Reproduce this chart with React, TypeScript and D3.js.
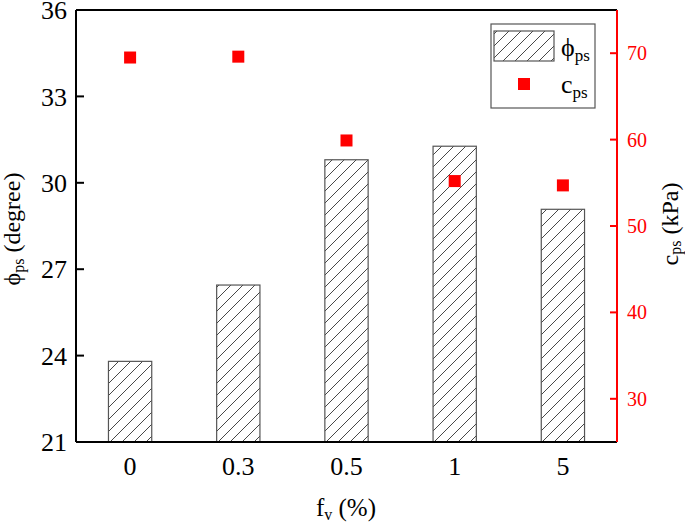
import React from "react";
import * as d3 from "d3";

const categories = ["0", "0.3", "0.5", "1", "5"];
const phiValues = [23.8, 26.45, 30.8, 31.27, 29.08];
const cValues = [69.5, 69.6, 59.9, 55.2, 54.7];
const leftTicks = [21, 24, 27, 30, 33, 36];
const rightTicks = [30, 40, 50, 60, 70];

const W = 685;
const H = 525;
const M = { left: 76, right: 617, top: 10, bottom: 442 };
const FONT = '"Liberation Serif", "Times New Roman", serif';

export default function App() {
  const x = d3.scaleBand<string>().domain(categories).range([M.left, M.right]).padding(0);
  const yL = d3.scaleLinear().domain([21, 36]).range([M.bottom, M.top]);
  const yR = d3.scaleLinear().domain([25, 75]).range([M.bottom, M.top]);
  const bw = x.bandwidth() * 0.4;
  const sq = 12;
  const cx = (c: string) => (x(c) as number) + x.bandwidth() / 2;

  return (
    <svg
      width={W}
      height={H}
      style={{ position: "absolute", left: 0, top: 0, background: "#fff", fontFamily: FONT }}
    >
      <defs>
        <pattern id="hatch" patternUnits="userSpaceOnUse" width={12} height={12}>
          <path d="M-3,3 l6,-6 M0,12 l12,-12 M9,15 l6,-6" stroke="#333" strokeWidth={0.9} />
        </pattern>
      </defs>
      <rect x={0} y={0} width={W} height={H} fill="#fff" />

      {/* bars */}
      {categories.map((c, i) => (
        <rect
          key={"b" + c}
          x={cx(c) - bw / 2}
          y={yL(phiValues[i])}
          width={bw}
          height={yL(21) - yL(phiValues[i])}
          fill="url(#hatch)"
          stroke="#555"
          strokeWidth={1.2}
        />
      ))}

      {/* squares */}
      {categories.map((c, i) => (
        <rect
          key={"s" + c}
          x={cx(c) - sq / 2}
          y={yR(cValues[i]) - sq / 2}
          width={sq}
          height={sq}
          fill="#ff0000"
        />
      ))}

      {/* frame */}
      <line x1={M.left} x2={M.right} y1={M.top} y2={M.top} stroke="#000" strokeWidth={2} />
      <line x1={M.left} x2={M.right} y1={M.bottom} y2={M.bottom} stroke="#000" strokeWidth={2} />
      <line x1={M.left} x2={M.left} y1={M.top} y2={M.bottom} stroke="#000" strokeWidth={2} />
      <line x1={M.right} x2={M.right} y1={M.top} y2={M.bottom} stroke="#ff0000" strokeWidth={2} />

      {/* left ticks */}
      {leftTicks.map((t) => (
        <g key={"lt" + t}>
          <line x1={M.left} x2={M.left + 8} y1={yL(t)} y2={yL(t)} stroke="#000" strokeWidth={2} />
          <text x={67} y={yL(t)} dy="0.35em" textAnchor="end" fontSize={26} fill="#000">
            {t}
          </text>
        </g>
      ))}

      {/* right ticks */}
      {rightTicks.map((t) => (
        <g key={"rt" + t}>
          <line x1={M.right - 7} x2={M.right} y1={yR(t)} y2={yR(t)} stroke="#ff0000" strokeWidth={2} />
          <text x={627} y={yR(t)} dy="0.35em" textAnchor="start" fontSize={20} fill="#ff0000">
            {t}
          </text>
        </g>
      ))}

      {/* x labels */}
      {categories.map((c) => (
        <text key={"xl" + c} x={cx(c)} y={475} textAnchor="middle" fontSize={26} fill="#000">
          {c}
        </text>
      ))}

      {/* axis titles */}
      <text x={346} y={516} textAnchor="middle" fontSize={25} fill="#000">
        f<tspan fontSize={16} dy={4}>v</tspan>
        <tspan dy={-4}> (%)</tspan>
      </text>
      <text
        transform={`translate(20,229) rotate(-90)`}
        textAnchor="middle"
        fontSize={24}
        fill="#000"
      >
        ϕ<tspan fontSize={16} dy={4}>ps</tspan>
        <tspan dy={-4}> (degree)</tspan>
      </text>
      <text
        transform={`translate(678,224) rotate(-90)`}
        textAnchor="middle"
        fontSize={24}
        fill="#000"
      >
        c<tspan fontSize={16} dy={3}>ps</tspan>
        <tspan dy={-3}> (kPa)</tspan>
      </text>

      {/* legend */}
      <rect x={491} y={24} width={104} height={84} fill="#fff" stroke="#555" strokeWidth={1.2} />
      <rect x={494} y={31} width={60} height={30} fill="url(#hatch)" stroke="#555" strokeWidth={1.2} />
      <text x={561} y={56} fontSize={26} fill="#000">
        ϕ<tspan fontSize={17} dy={5}>ps</tspan>
      </text>
      <rect x={524 - sq / 2} y={84 - sq / 2} width={sq} height={sq} fill="#ff0000" />
      <text x={561} y={93} fontSize={26} fill="#000">
        c<tspan fontSize={17} dy={5}>ps</tspan>
      </text>
    </svg>
  );
}
